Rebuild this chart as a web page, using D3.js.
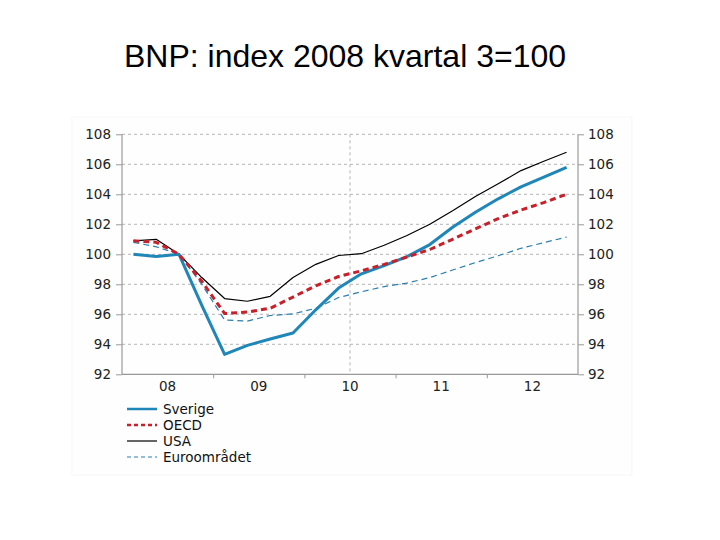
<!DOCTYPE html>
<html>
<head>
<meta charset="utf-8">
<script src="https://cdn.jsdelivr.net/npm/d3@7/dist/d3.min.js"></script>
<style>
  html, body { margin: 0; padding: 0; background: #ffffff; }
  svg { display: block; }
</style>
</head>
<body>
<div id="chart"></div>
<script>
// ---- Data (quarterly, 2008 Q1 .. 2012 Q4) ----
const startYear = 2008;
const yearLabels = ["08", "09", "10", "11", "12"];
const yTicks = [92, 94, 96, 98, 100, 102, 104, 106, 108];
const forecastStart = 2010.5;

const sverige = [100.0, 99.85, 100.0, 96.6, 93.33, 93.93, 94.35, 94.75, 96.3, 97.75,
                 98.7, 99.25, 99.85, 100.65, 101.8, 102.8, 103.7, 104.5, 105.15, 105.8];
const oecd    = [100.9, 100.8, 100.0, 98.2, 96.05, 96.15, 96.4, 97.15, 97.9, 98.52,
                 98.9, 99.33, 99.82, 100.32, 101.0, 101.7, 102.38, 102.95, 103.45, 104.0];
const usa     = [100.9, 101.0, 100.0, 98.45, 97.05, 96.87, 97.2, 98.45, 99.33, 99.92,
                 100.04, 100.6, 101.25, 102.0, 102.9, 103.85, 104.7, 105.58, 106.2, 106.8];
const euro    = [100.8, 100.5, 100.0, 98.0, 95.62, 95.55, 95.92, 96.03, 96.4, 97.12,
                 97.5, 97.85, 98.08, 98.45, 98.95, 99.45, 99.9, 100.4, 100.78, 101.15];

const seriesNames = ["Sverige", "OECD", "USA", "Euroområdet"];
const seriesValues = [sverige, oecd, usa, euro];
const seriesStyles = [
  { color: "#1f86b8", width: 3,   dash: null },
  { color: "#c8202a", width: 3,   dash: "6,4" },
  { color: "#000000", width: 1.2, dash: null },
  { color: "#2a7fb0", width: 1.2, dash: "6,4" }
];

// ---- Layout ----
const W = 720, H = 540;
const svg = d3.select("#chart").append("svg").attr("width", W).attr("height", H);

// faint background panel
svg.append("rect").attr("x", 72).attr("y", 117).attr("width", 560).attr("height", 358)
  .attr("fill", "#fefefe").attr("stroke", "#f7f7f7");

svg.append("text")
  .attr("x", 345).attr("y", 67)
  .attr("text-anchor", "middle")
  .attr("font-family", "'Liberation Sans', Arial, sans-serif")
  .attr("font-size", 32)
  .attr("fill", "#000")
  .text("BNP: index 2008 kvartal 3=100");

const x = d3.scaleLinear().domain([startYear, startYear + yearLabels.length]).range([122, 578]);
const y = d3.scaleLinear().domain([92, 108]).range([374.3, 134.3]);

const tickFont = "'DejaVu Sans', Verdana, sans-serif";
const axisColor = "#999";

// horizontal gridlines
svg.append("g").selectAll("line").data(yTicks.filter(d => d !== 92)).join("line")
  .attr("x1", 122).attr("x2", 578)
  .attr("y1", d => y(d)).attr("y2", d => y(d))
  .attr("stroke", "#b4b4b4").attr("stroke-width", 1).attr("stroke-dasharray", "3,3");

// vertical forecast divider
svg.append("line")
  .attr("x1", x(forecastStart)).attr("x2", x(forecastStart))
  .attr("y1", y(108)).attr("y2", y(92))
  .attr("stroke", "#b4b4b4").attr("stroke-width", 1).attr("stroke-dasharray", "3,3");

// left axis
const leftAxis = d3.axisLeft(y).tickValues(yTicks).tickSize(6).tickPadding(5).tickFormat(d3.format("d"));
const gl = svg.append("g").attr("transform", "translate(122,0)").call(leftAxis);
// right axis
const rightAxis = d3.axisRight(y).tickValues(yTicks).tickSize(6).tickPadding(4).tickFormat(d3.format("d"));
const gr = svg.append("g").attr("transform", "translate(578,0)").call(rightAxis);
// bottom axis: ticks at year boundaries, labels at mid-year
const bottomTicks = d3.range(startYear + 1, startYear + yearLabels.length);
const gb = svg.append("g").attr("transform", "translate(0,374.3)")
  .call(d3.axisBottom(x).tickValues(bottomTicks).tickSize(4).tickFormat(""));
gb.append("g").selectAll("text").data(yearLabels).join("text")
  .attr("x", (d, i) => x(startYear + i + 0.5))
  .attr("y", 17)
  .attr("text-anchor", "middle")
  .attr("font-family", tickFont).attr("font-size", 13.5).attr("fill", "#222")
  .text(d => d);

[gl, gr, gb].forEach(g => {
  g.select(".domain").attr("stroke", axisColor).attr("stroke-width", 1.2);
  g.selectAll(".tick line").attr("stroke", axisColor);
  g.selectAll(".tick text").attr("font-family", tickFont).attr("font-size", 13.5).attr("fill", "#222");
});
gl.select(".domain").attr("d", "M0,134.3V374.3");
gr.select(".domain").attr("d", "M0,134.3V374.3");
gb.select(".domain").attr("d", "M0,0H456");
gb.select(".domain").attr("transform", "translate(122,0)");

// lines
const line = d3.line()
  .x((d, i) => x(startYear + (i + 0.5) / 4))
  .y(d => y(d));

const drawOrder = [3, 2, 0, 1];
drawOrder.forEach(k => {
  const st = seriesStyles[k];
  svg.append("path")
    .datum(seriesValues[k])
    .attr("d", line)
    .attr("fill", "none")
    .attr("stroke", st.color)
    .attr("stroke-width", st.width)
    .attr("stroke-dasharray", st.dash)
    .attr("stroke-linejoin", "round");
});

// legend
const legend = svg.append("g");
seriesNames.forEach((name, k) => {
  const st = seriesStyles[k];
  const ly = 409 + k * 16;
  legend.append("line")
    .attr("x1", 127).attr("x2", 157).attr("y1", ly).attr("y2", ly)
    .attr("stroke", st.color).attr("stroke-width", st.width === 3 ? 2.5 : 1.2)
    .attr("stroke-dasharray", st.dash ? "4,3" : null);
  legend.append("text")
    .attr("x", 163).attr("y", ly + 5)
    .attr("font-family", tickFont).attr("font-size", 13.5).attr("fill", "#111")
    .text(name);
});
</script>
</body>
</html>
